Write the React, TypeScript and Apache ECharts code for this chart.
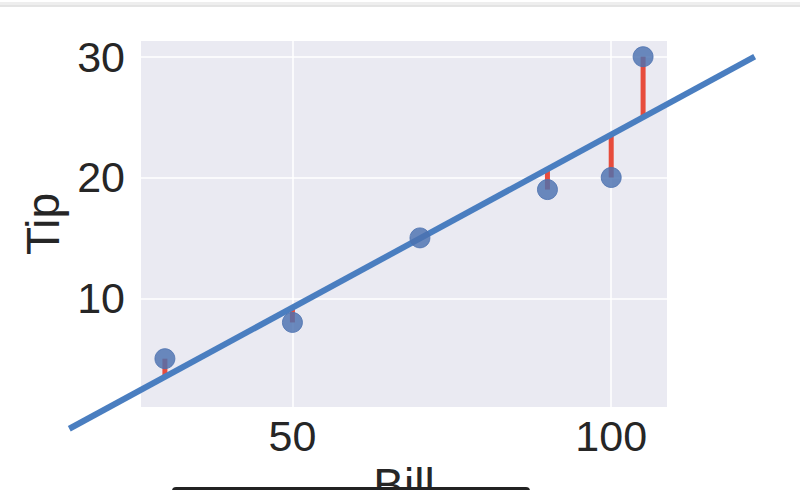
import React, { useEffect, useRef } from "react";
import * as echarts from "echarts";

// Observed data (Bill vs Tip)
const bills = [30, 50, 70, 90, 100, 105];
const tips = [5, 8, 15, 19, 20, 30];
// Regression line value read at each bill (where the red residual meets the line)
const fitAtBill = [3.5, 9.25, 15.0, 20.7, 23.55, 25.0];
// Regression line end points as drawn (extends beyond the axes)
const fitLineX = [15, 122.5];
const fitLineY = [-0.8, 30.0];
// Tick labels
const xTicks = [50, 100];
const yTicks = [10, 20, 30];

const FONT = "Liberation Sans, Arial, Helvetica, sans-serif";

export default function App() {
  const ref = useRef<HTMLDivElement>(null);
  useEffect(() => {
    if (!ref.current) return;
    const chart = echarts.init(ref.current, undefined, { renderer: "svg" });
    const option: any = {
      animation: false,
      backgroundColor: "#ffffff",
      grid: {
        left: 141,
        right: 133,
        top: 41,
        bottom: 83,
        containLabel: false,
        outerBoundsMode: "none",
        show: true,
        backgroundColor: "#EAEAF2",
        borderWidth: 0,
      },
      xAxis: {
        type: "value",
        min: 26.25,
        max: 108.75,
        name: "Bill",
        nameLocation: "middle",
        nameGap: 43,
        nameTextStyle: { fontSize: 46, color: "#262626", fontFamily: FONT },
        axisLine: { show: false },
        axisTick: { show: false, customValues: xTicks },
        axisLabel: {
          customValues: xTicks,
          fontSize: 43,
          color: "#262626",
          fontFamily: FONT,
          margin: 7,
        },
        splitLine: { show: true, lineStyle: { color: "#ffffff", width: 1.5 } },
      },
      yAxis: {
        type: "value",
        min: 1,
        max: 31.3,
        name: "Tip",
        nameLocation: "middle",
        nameRotate: 90,
        nameGap: 72,
        nameTextStyle: { fontSize: 46, color: "#262626", fontFamily: FONT },
        axisLine: { show: false },
        axisTick: { show: false, customValues: yTicks },
        axisLabel: {
          customValues: yTicks,
          fontSize: 43,
          color: "#262626",
          fontFamily: FONT,
          margin: 16,
        },
        splitLine: { show: true, lineStyle: { color: "#ffffff", width: 1.5 } },
      },
      series: [
        {
          type: "custom",
          name: "residuals",
          clip: false,
          z: 2,
          data: bills.map((b, i) => [b, tips[i], fitAtBill[i]]),
          renderItem: (_params: any, api: any) => {
            const p1 = api.coord([api.value(0), api.value(1)]);
            const p2 = api.coord([api.value(0), api.value(2)]);
            return {
              type: "line",
              shape: { x1: p1[0], y1: p1[1], x2: p2[0], y2: p2[1] },
              style: { stroke: "#E74C3C", lineWidth: 5 },
            };
          },
        },
        {
          type: "custom",
          name: "fit",
          clip: false,
          z: 3,
          data: [[fitLineX[0], fitLineY[0], fitLineX[1], fitLineY[1]]],
          renderItem: (_params: any, api: any) => {
            const p1 = api.coord([api.value(0), api.value(1)]);
            const p2 = api.coord([api.value(2), api.value(3)]);
            return {
              type: "line",
              shape: { x1: p1[0], y1: p1[1], x2: p2[0], y2: p2[1] },
              style: { stroke: "#4A7EC0", lineWidth: 6 },
            };
          },
        },
        {
          type: "scatter",
          name: "data",
          z: 4,
          clip: false,
          symbolSize: 20,
          data: bills.map((b, i) => [b, tips[i]]),
          itemStyle: {
            color: "#4C72B0",
            opacity: 0.82,
            borderColor: "#4C72B0",
            borderWidth: 1,
          },
        },
      ],
      graphic: [
        { type: "rect", shape: { x: 0, y: 2, width: 800, height: 5 }, style: { fill: "#eeeeee" }, z: 10 },
        { type: "line", shape: { x1: 0, y1: 6, x2: 800, y2: 6 }, style: { stroke: "#d9d9d9", lineWidth: 1 }, z: 10 },
        { type: "rect", shape: { x: 172, y: 487, width: 358, height: 10, r: 4 }, style: { fill: "#222222" }, z: 10 },
      ],
    };
    chart.setOption(option);
    return () => chart.dispose();
  }, []);
  return (
    <div
      ref={ref}
      style={{ position: "fixed", left: 0, top: 0, width: 800, height: 490 }}
    />
  );
}
